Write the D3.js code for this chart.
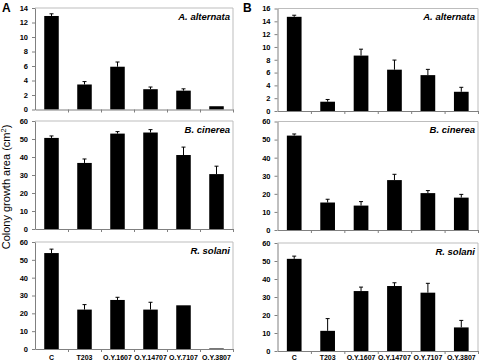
<!DOCTYPE html>
<html>
<head>
<meta charset="utf-8">
<script src="https://cdn.jsdelivr.net/npm/d3@7"></script>
<style>
  body { margin: 0; background: #fff; }
  svg { display: block; font-family: "Liberation Sans", Arial, sans-serif; }
</style>
</head>
<body>
<div id="chart"></div>
<script>
// data
const categories = ["C", "T203", "O.Y.1607", "O.Y.14707", "O.Y.7107", "O.Y.3807"];
const species = ["A. alternata", "B. cinerea", "R. solani"];

const aAlternata = [12.9, 3.45, 5.9, 2.8, 2.6, 0.45];
const aAlternataErr = [0.3, 0.4, 0.65, 0.3, 0.25, 0];
const aCinerea = [50.6, 36.7, 53.0, 53.6, 41.1, 30.5];
const aCinereaErr = [1.1, 2.2, 1.1, 1.6, 4.4, 4.4];
const aSolani = [53.8, 22.1, 27.5, 22.1, 24.5, 0.3];
const aSolaniErr = [2.2, 2.8, 1.5, 4.1, 0, 0];

const bAlternata = [14.7, 1.45, 8.65, 6.45, 5.6, 3.0];
const bAlternataErr = [0.25, 0.35, 1.0, 1.5, 0.9, 0.7];
const bCinerea = [52.2, 15.2, 13.5, 27.6, 20.4, 17.9];
const bCinereaErr = [0.9, 1.8, 2.2, 3.2, 1.4, 1.8];
const bSolani = [51.2, 11.2, 33.3, 36.1, 32.4, 13.1];
const bSolaniErr = [1.5, 6.8, 2.2, 1.8, 5.2, 3.9];

const ticksA1 = [0, 2, 4, 6, 8, 10, 12, 14];
const ticksB1 = [0, 2, 4, 6, 8, 10, 12, 14, 16];
const ticks60 = [0, 10, 20, 30, 40, 50, 60];

const width = 480, height = 362;

const svg = d3.select("#chart").append("svg")
    .attr("width", width)
    .attr("height", height);

// panel layout (A left, B right)
const panels = [
    { letter: "A", x0: 35, x1: 233, lx: 2,
      rows: [
        { top: 8, bottom: 109.5, ticks: ticksA1, vals: aAlternata, err: aAlternataErr },
        { top: 121, bottom: 229, ticks: ticks60, vals: aCinerea, err: aCinereaErr },
        { top: 242, bottom: 349, ticks: ticks60, vals: aSolani, err: aSolaniErr }
      ] },
    { letter: "B", x0: 277.5, x1: 478, lx: 243,
      rows: [
        { top: 8.5, bottom: 111, ticks: ticksB1, vals: bAlternata, err: bAlternataErr },
        { top: 121.5, bottom: 230, ticks: ticks60, vals: bCinerea, err: bCinereaErr },
        { top: 243, bottom: 351, ticks: ticks60, vals: bSolani, err: bSolaniErr }
      ] }
];

panels.forEach(p => {
    const x = d3.scaleBand()
        .domain(categories)
        .range([p.x0, p.x1])
        .paddingInner(0.56)
        .paddingOuter(0.28);
    const xb = d3.scaleLinear().domain([0, categories.length]).range([p.x0, p.x1]);

    svg.append("text")
        .attr("x", p.lx)
        .attr("y", 12)
        .style("font-size", "12px")
        .style("font-weight", "bold")
        .text(p.letter);

    p.rows.forEach((r, ri) => {
        const y = d3.scaleLinear()
            .domain([0, d3.max(r.ticks)])
            .range([r.bottom, r.top]);

        const g = svg.append("g");

        // plot area border (top + right)
        g.append("path")
            .attr("d", `M${p.x0},${r.top}H${p.x1}V${r.bottom}`)
            .attr("fill", "none")
            .attr("stroke", "#bdbdbd")
            .attr("stroke-width", 1);

        // bars
        g.selectAll(".bar")
            .data(r.vals)
            .enter()
            .append("rect")
            .attr("class", "bar")
            .attr("x", (d, i) => x(categories[i]))
            .attr("y", d => y(d))
            .attr("width", x.bandwidth())
            .attr("height", d => y(0) - y(d))
            .style("fill", "#000");

        // error bars (upper only)
        const eb = g.selectAll(".err")
            .data(r.vals.map((v, i) => ({ v: v, e: r.err[i], c: categories[i] })).filter(d => d.e > 0))
            .enter()
            .append("g")
            .attr("class", "err");
        eb.append("line")
            .attr("x1", d => x(d.c) + x.bandwidth() / 2)
            .attr("x2", d => x(d.c) + x.bandwidth() / 2)
            .attr("y1", d => y(d.v))
            .attr("y2", d => y(d.v + d.e))
            .attr("stroke", "#000")
            .attr("stroke-width", 1);
        eb.append("line")
            .attr("x1", d => x(d.c) + x.bandwidth() / 2 - 2)
            .attr("x2", d => x(d.c) + x.bandwidth() / 2 + 2)
            .attr("y1", d => y(d.v + d.e))
            .attr("y2", d => y(d.v + d.e))
            .attr("stroke", "#000")
            .attr("stroke-width", 1);

        // y axis
        const yAxis = g.append("g")
            .attr("transform", `translate(${p.x0},0)`)
            .call(d3.axisLeft(y).tickValues(r.ticks).tickSize(3).tickSizeOuter(0).tickPadding(4));
        yAxis.select(".domain").attr("stroke", "#808080");
        yAxis.selectAll(".tick line").attr("stroke", "#808080");
        yAxis.selectAll("text")
            .style("font-size", "7.5px")
            .style("font-weight", "bold")
            .style("font-family", "'Liberation Sans', Arial, sans-serif")
            .attr("fill", "#000");

        // x axis: tick marks at category boundaries
        const xAxis = g.append("g")
            .attr("transform", `translate(0,${r.bottom})`)
            .call(d3.axisBottom(xb).tickValues(d3.range(1, categories.length + 1)).tickSize(3).tickSizeOuter(0).tickFormat(""));
        xAxis.select(".domain").attr("stroke", "#808080");
        xAxis.selectAll(".tick line").attr("stroke", "#808080");

        // category labels on the bottom row
        if (ri === p.rows.length - 1) {
            g.selectAll(".cat")
                .data(categories)
                .enter()
                .append("text")
                .attr("class", "cat")
                .attr("x", d => x(d) + x.bandwidth() / 2)
                .attr("y", 360)
                .attr("text-anchor", "middle")
                .style("font-size", "7px")
                .style("font-weight", "bold")
                .text(d => d);
        }

        // species name
        g.append("text")
            .attr("x", p.x1 - 3)
            .attr("y", r.top + 11.5)
            .attr("text-anchor", "end")
            .style("font-size", "9.5px")
            .style("font-weight", "bold")
            .style("font-style", "italic")
            .text(species[ri]);
    });
});

// y-axis title
svg.append("text")
    .attr("transform", "translate(10,187) rotate(-90)")
    .attr("text-anchor", "middle")
    .style("font-size", "11px")
    .html("Colony growth area (cm<tspan baseline-shift='super' font-size='7.5px'>2</tspan>)");
</script>
</body>
</html>
